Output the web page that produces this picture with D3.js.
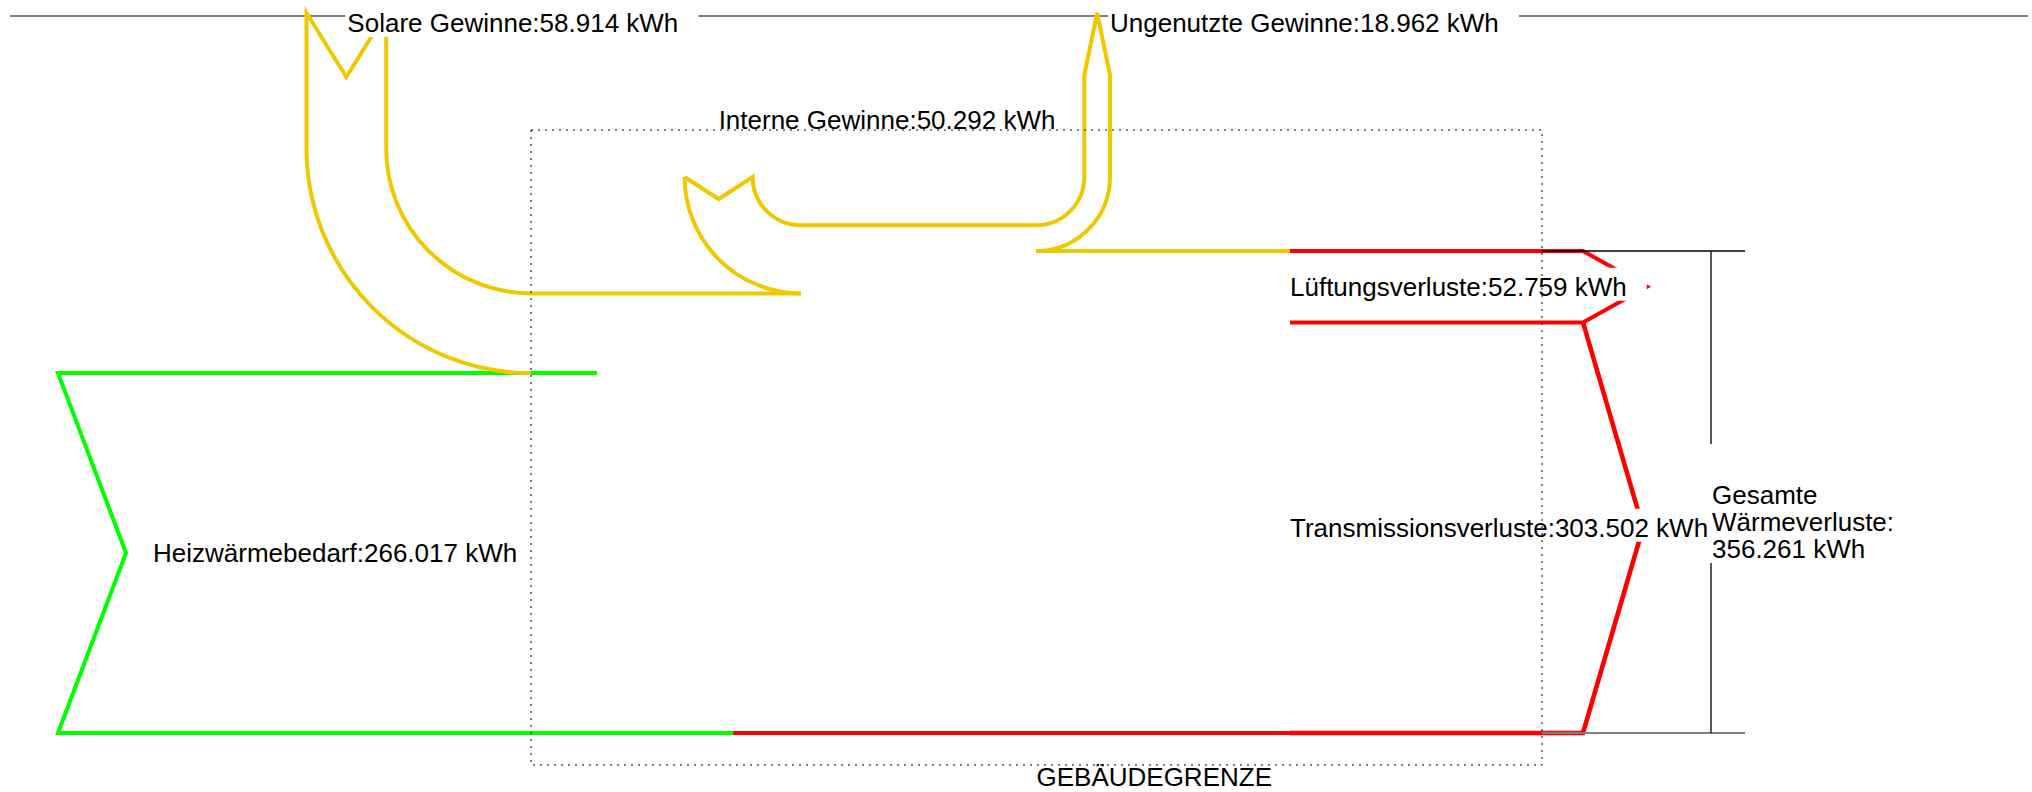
<!DOCTYPE html>
<html>
<head>
<meta charset="utf-8">
<script src="https://cdn.jsdelivr.net/npm/d3@7"></script>
<style>
  body { margin: 0; background: #fff; }
  svg text { font-family: "Liberation Sans", Arial, sans-serif; font-size: 26px; fill: #000; }
</style>
</head>
<body>
<svg id="chart" width="2032" height="792"></svg>
<script>
// energy balance in kWh
const flowNames = ["Heizwärmebedarf", "Solare Gewinne", "Interne Gewinne", "Ungenutzte Gewinne", "Lüftungsverluste", "Transmissionsverluste"];
const flowValues = [266.017, 58.914, 50.292, 18.962, 52.759, 303.502];
const totalLabel = ["Gesamte", "Wärmeverluste:"];
const boundaryLabel = "GEBÄUDEGRENZE";
const unit = "kWh";

const colors = { heat: "#00ff00", gain: "#f0c800", loss: "#ff0000" };
const fmt = d3.format(".3f");
const labelOf = i => `${flowNames[i]}:${fmt(flowValues[i])} ${unit}`;

const [heat, solar, internal, unused, vent, trans] = flowValues;
const totalLoss = vent + trans;

const svg = d3.select("#chart");

// stacked flow band, measured from the bottom edge
const y = d3.scaleLinear().domain([0, totalLoss]).range([733, 251]);
const w = v => y(0) - y(v);

const yBase = y(0);
const yHeat = y(heat);
const ySolar = y(heat + solar);
const yInt = y(heat + solar + internal);
const yUnused = y(heat + solar + internal - unused);
const yVent = y(trans);

const box = { x0: 531, x1: 1542, y0: 130, y1: 765 };
const topY = 16, tipY = 13;
const PI = Math.PI;

// reference line at the top
svg.append("line")
  .attr("x1", 10).attr("x2", 2028).attr("y1", topY).attr("y2", topY)
  .attr("stroke", "#808080").attr("stroke-width", 2);

const flows = svg.append("g")
  .attr("fill", "none")
  .attr("stroke-width", 4)
  .attr("stroke-linejoin", "miter");

function draw(color, build, width) {
  const p = d3.path();
  build(p);
  flows.append("path").attr("d", p.toString()).attr("stroke", color)
    .attr("stroke-width", width || 4);
}

// heating demand (green)
const heatMid = (yHeat + yBase) / 2;
draw(colors.heat, p => {
  p.moveTo(597, yHeat);
  p.lineTo(58, yHeat);
  p.lineTo(126, heatMid);
  p.lineTo(58, yBase);
  p.lineTo(733, yBase);
});

// solar gains coming down from the top
const solarR = 224.5;
const solarCy = yHeat - solarR;
const solarOut = box.x0 - solarR;
const solarIn = solarOut + w(solar);
draw(colors.gain, p => {
  p.moveTo(solarOut, solarCy);
  p.lineTo(solarOut, tipY);
  p.lineTo((solarOut + solarIn) / 2, tipY + 64);
  p.lineTo(solarIn, tipY);
  p.lineTo(solarIn, solarCy);
  p.moveTo(solarOut, solarCy);
  p.arc(box.x0, solarCy, solarR, PI, PI / 2, true);
  p.moveTo(solarIn, solarCy);
  p.arc(box.x0, solarCy, solarR - w(solar), PI, PI / 2, true);
  p.lineTo(801, ySolar);
});

// internal gains
const intCx = 801, arcCy = 177;
const intR = ySolar - arcCy;
const intOut = intCx - intR;
const intIn = intOut + w(internal);
draw(colors.gain, p => {
  p.moveTo(intOut, arcCy);
  p.arc(intCx, arcCy, intR, PI, PI / 2, true);
  p.moveTo(intOut, arcCy);
  p.lineTo((intOut + intIn) / 2, arcCy + 22);
  p.lineTo(intIn, arcCy);
  p.arc(intCx, arcCy, intR - w(internal), PI, PI / 2, true);
  p.lineTo(1036, yInt);
});

// unused gains leaving through the top
const unCx = 1036;
const unR1 = yInt - arcCy;
const unR2 = unR1 + w(unused);
draw(colors.gain, p => {
  p.moveTo(unCx, yInt);
  p.arc(unCx, arcCy, unR1, PI / 2, 0, true);
  p.lineTo(unCx + unR1, 75);
  p.lineTo(unCx + (unR1 + unR2) / 2, tipY);
  p.lineTo(unCx + unR2, 75);
  p.lineTo(unCx + unR2, arcCy);
  p.arc(unCx, arcCy, unR2, 0, PI / 2, false);
  p.lineTo(1290, yUnused);
});

// ventilation and transmission losses
draw(colors.loss, p => {
  p.moveTo(1290, yUnused);
  p.lineTo(1583, yUnused);
  p.lineTo(1647, (yUnused + yVent) / 2);
  p.lineTo(1583, yVent);
  p.lineTo(1290, yVent);
});
draw(colors.loss, p => {
  p.moveTo(1290, yBase);
  p.lineTo(733, yBase);
});
draw(colors.loss, p => {
  p.moveTo(1583, yVent);
  p.lineTo(1643, (yVent + yBase) / 2);
  p.lineTo(1583, yBase);
  p.lineTo(1290, yBase);
}, 4.6);

// labels on white boxes
const labels = svg.append("g");
function addLabel(x, baseline, str, withBox) {
  const g = labels.append("g");
  const rect = g.append("rect").attr("fill", "#fff");
  const t = g.append("text").attr("x", x).attr("y", baseline).text(str);
  if (withBox) {
    const len = t.node().getComputedTextLength();
    rect.attr("x", x - 2).attr("y", baseline - 28).attr("width", len + 22).attr("height", 33);
  } else {
    rect.remove();
  }
}

addLabel((solarOut + solarIn) / 2 + 1, 32, labelOf(1), true);
addLabel(unCx + unR2, 32, labelOf(3), true);
addLabel((intOut + intIn) / 2, 129, labelOf(2), false);
addLabel(153, heatMid + 9, labelOf(0), true);
addLabel(1290, (yUnused + yVent) / 2 + 9, labelOf(4), true);
addLabel(1290, (yVent + yBase) / 2 + 9, labelOf(5), true);

// total losses bracket
const brX = 1711;
svg.append("line")
  .attr("x1", box.x1).attr("x2", 1745).attr("y1", yUnused).attr("y2", yUnused)
  .attr("stroke", "#000").attr("stroke-width", 1.3);
svg.append("line")
  .attr("x1", box.x1).attr("x2", 1745).attr("y1", yBase).attr("y2", yBase)
  .attr("stroke", "#808080").attr("stroke-width", 2);
svg.append("line")
  .attr("x1", brX).attr("x2", brX).attr("y1", yUnused).attr("y2", yBase)
  .attr("stroke", "#000").attr("stroke-width", 1.3);

const totalLines = totalLabel.concat([`${fmt(totalLoss)} ${unit}`]);
svg.append("rect")
  .attr("x", brX - 3).attr("y", 444).attr("width", 200).attr("height", 119)
  .attr("fill", "#fff");
svg.append("text")
  .attr("x", brX + 1).attr("y", 504)
  .selectAll("tspan")
  .data(totalLines)
  .join("tspan")
  .attr("x", brX + 1)
  .attr("dy", (d, i) => i ? 27 : 0)
  .text(d => d);

// building boundary
svg.append("rect")
  .attr("x", box.x0).attr("y", box.y0)
  .attr("width", box.x1 - box.x0).attr("height", box.y1 - box.y0)
  .attr("fill", "none").attr("stroke", "#000").attr("stroke-width", 1)
  .attr("stroke-dasharray", "2,5");
svg.append("text")
  .attr("x", (box.x0 + box.x1) / 2).attr("y", 786)
  .text(boundaryLabel);
</script>
</body>
</html>
